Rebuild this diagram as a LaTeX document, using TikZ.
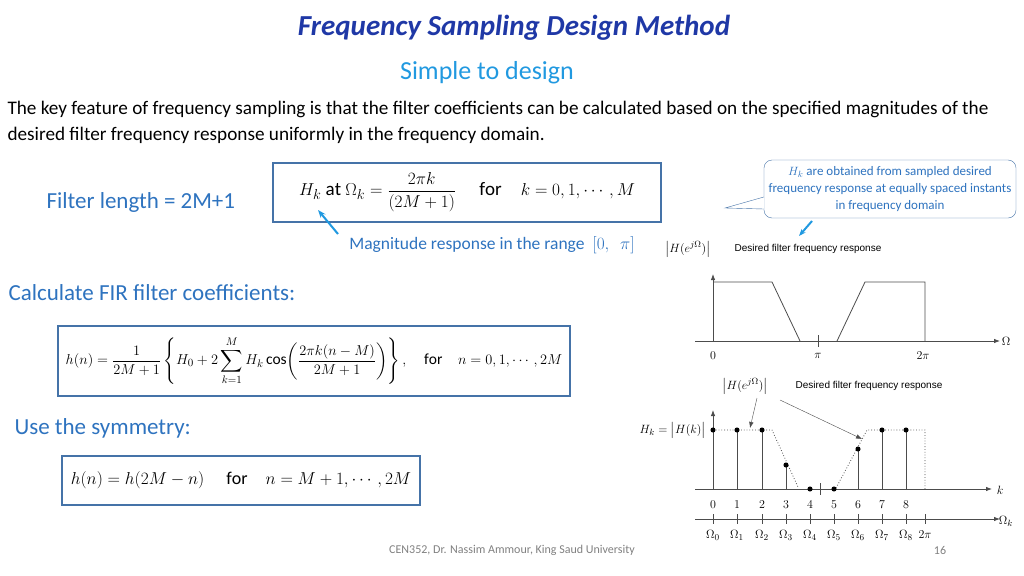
\documentclass[tikz,border=0pt]{standalone}
\usepackage{amsmath}
\usepackage{amssymb}
\usepackage{fontspec}
\setmainfont{Carlito}
\newfontfamily\plotfont{Liberation Sans}
\usetikzlibrary{arrows.meta}
\definecolor{titleblue}{rgb}{0.12,0.22,0.65}
\definecolor{lightblue}{rgb}{0.13,0.6,0.88}
\definecolor{midblue}{rgb}{0.18,0.45,0.75}
\definecolor{boxblue}{rgb}{0.27,0.45,0.66}
\definecolor{plotgray}{rgb}{0.3,0.3,0.3}
\tikzset{
  fbox/.style={draw=boxblue,line width=1.6pt},
  heading/.style={anchor=west,text=midblue,font=\fontsize{23}{26}\selectfont},
  axis/.style={plotgray,line width=0.8pt,-{Latex[length=6pt]}},
  stem/.style={plotgray,line width=1pt},
  dotpt/.style={fill=black,circle,inner sep=1.8pt},
  plotlab/.style={font=\plotfont\fontsize{10}{12}\selectfont},
  numlab/.style={font=\fontsize{13}{15}\selectfont\rmfamily},
}
\begin{document}
\begin{tikzpicture}[x=1pt,y=-1pt]
\useasboundingbox (0,0) rectangle (1024,575);
% title
\node (title) at (514,28) {\fontsize{29}{32}\selectfont\bfseries\itshape\color{titleblue}Frequency Sampling Design Method};
\node (simple) at (487,73) {\fontsize{26}{30}\selectfont\color{lightblue}Simple to design};
\node[anchor=west] (para1) at (4,109) {\fontsize{19.2}{22}\selectfont The key feature of frequency sampling is that the filter coefficients can be calculated based on the specified magnitudes of the};
\node[anchor=west] (para2) at (4,135) {\fontsize{19.2}{22}\selectfont desired filter frequency response uniformly in the frequency domain.};
% left column
\node[heading] (flen) at (43,202) {Filter length = 2M+1};
\node[heading] (calc) at (5,293) {Calculate FIR filter coefficients:};
\node[heading] (sym) at (11,428) {Use the symmetry:};
% formula boxes
\draw[fbox] (273,163) rectangle (661,222);
\node (eq1) at (467,192) {\fontsize{19}{22}\selectfont$H_k\ \mathrm{at}\ \Omega_k=\dfrac{2\pi k}{(2M+1)}\quad\ \mathrm{for}\quad k=0,1,\cdots,M$};
\draw[fbox] (58,326) rectangle (570,396);
\node (eq2) at (314,361) {\fontsize{15.5}{18}\selectfont$h(n)=\dfrac{1}{2M+1}\left\{H_0+2\displaystyle\sum_{k=1}^{M}H_k\cos\!\left(\dfrac{2\pi k(n-M)}{2M+1}\right)\right\},\quad \mathrm{for}\quad n=0,1,\cdots,2M$};
\draw[fbox] (62,456) rectangle (420,505);
\node (eq3) at (241,480) {\fontsize{18}{21}\selectfont$h(n)=h(2M-n)\quad\ \mathrm{for}\quad n=M+1,\cdots,2M$};
\node (mag) at (492,245) {\fontsize{17.5}{20}\selectfont\color{midblue}Magnitude response in the range\ \ $[0,\ \ \pi]$};
\draw[-{Stealth[length=8pt]},lightblue,line width=2pt] (338,234) -- (318,210);
% callout
\node[draw=boxblue,rounded corners=8pt,fill=white,align=center,minimum width=252pt,minimum height=58pt,inner sep=2pt,
  font=\fontsize{13}{17}\selectfont\color{midblue}] (note) at (890,189)
  {$H_k$ are obtained from sampled desired\\ frequency response at equally spaced instants\\ in frequency domain};
\coordinate (tip) at (725,208);
\draw[boxblue,fill=white] ([yshift=-8pt]note.west) -- (tip) -- ([yshift=-20pt]note.west);
\draw[-{Stealth[length=7pt]},lightblue,line width=2pt] (812,221) -- (799,236);
% top plot
\coordinate (o1) at (713,341);
\draw[axis] (695,341) -- (1000,341);
\draw[axis] (o1) -- (713,274);
\draw[plotgray,line width=0.8pt] (713,282) -- (772,282) -- (800,341);
\draw[plotgray,line width=0.8pt] (837,341) -- (865,282) -- (925,282) -- (925,341);
\draw[plotgray] (818,335) -- (818,347);
\node[numlab] at (1006,341) {$\Omega$};
\node[numlab] at (713,356) {$0$};
\node[numlab] at (818,356) {$\pi$};
\node[numlab] at (923,356) {$2\pi$};
\node[numlab,anchor=east] (mag1) at (714,249) {$\bigl|H(e^{j\Omega})\bigr|$};
\node[plotlab] (des1) at (808,249) {Desired filter frequency response};
% bottom plot
\draw[axis] (695,489) -- (992,489);
\draw[axis] (695,519) -- (1000,519);
\draw[axis] (713,489) -- (713,410);
\node[numlab] at (1000,490) {$k$};
\node[numlab] at (1006,521) {$\Omega_k$};
\node[numlab,anchor=east,inner sep=1pt] at (707,430) {$H_k=\bigl|H(k)\bigr|$};
\draw[plotgray,dotted,line width=0.8pt] (713,430) -- (772,430) -- (798,487);
\draw[plotgray,dotted,line width=0.8pt] (836,488) -- (867,430) -- (925,430) -- (925,489);
\draw[plotgray] (820,483) -- (820,495);
\foreach \i/\x/\h in {0/713/430,1/737/430,2/762/430,3/786/465,4/810/489,5/834/489,6/858/449,7/882/430,8/906/430}{
  \draw[stem] (\x,489) -- (\x,\h);
  \node[dotpt] at (\x,\h) {};
  \node[numlab] at (\x,505) {$\i$};
  \draw[plotgray] (\x,514) -- (\x,524);
  \node[numlab] at (\x,535) {$\Omega_{\i}$};
}
\draw[plotgray] (925,514) -- (925,524);
\node[numlab] at (925,535) {$2\pi$};
\node[numlab] (mag2) at (745,386) {$\bigl|H(e^{j\Omega})\bigr|$};
\node[plotlab] (des2) at (869,386) {Desired filter frequency response};
\draw[-{Latex[length=6pt]},plotgray] (757,398) -- (750,428);
\draw[-{Latex[length=6pt]},plotgray] (780,400) -- (862,439);
% footer
\node[text=gray] (foot) at (512,550) {\fontsize{12}{14}\selectfont CEN352, Dr. Nassim Ammour, King Saud University};
\node[text=gray] (page) at (940,550) {\fontsize{12}{14}\selectfont 16};
\end{tikzpicture}
\end{document}
